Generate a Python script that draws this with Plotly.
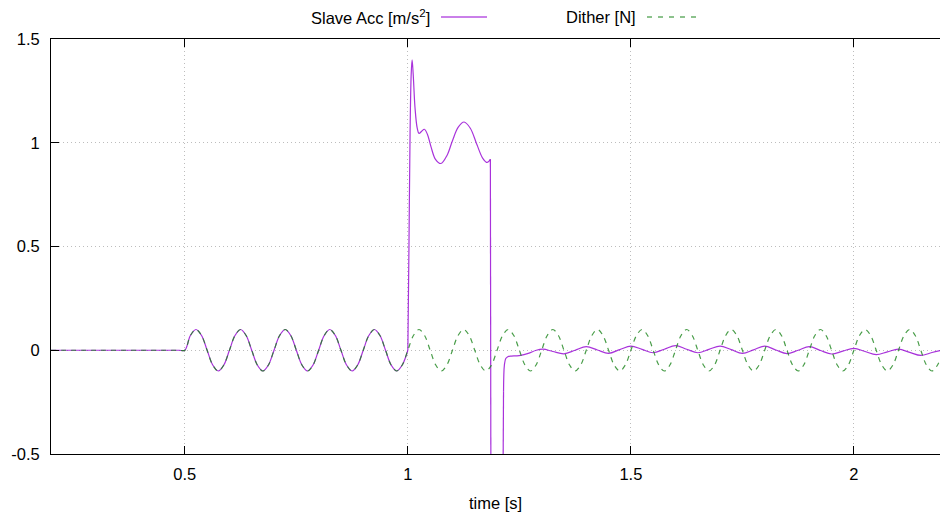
import plotly.graph_objects as go

# ---------------- data ----------------
# Dither [N]: 10 Hz, 0.1 N amplitude, starts at t = 0.5 s (eighth-period samples)
dither_t = [0.2, 0.3, 0.4, 0.45, 0.475, 0.4875,
            0.5, 0.5125, 0.525, 0.5375, 0.55, 0.5625, 0.575, 0.5875,
            0.6, 0.6125, 0.625, 0.6375, 0.65, 0.6625, 0.675, 0.6875,
            0.7, 0.7125, 0.725, 0.7375, 0.75, 0.7625, 0.775, 0.7875,
            0.8, 0.8125, 0.825, 0.8375, 0.85, 0.8625, 0.875, 0.8875,
            0.9, 0.9125, 0.925, 0.9375, 0.95, 0.9625, 0.975, 0.9875,
            1.0, 1.0125, 1.025, 1.0375, 1.05, 1.0625, 1.075, 1.0875,
            1.1, 1.1125, 1.125, 1.1375, 1.15, 1.1625, 1.175, 1.1875,
            1.2, 1.2125, 1.225, 1.2375, 1.25, 1.2625, 1.275, 1.2875,
            1.3, 1.3125, 1.325, 1.3375, 1.35, 1.3625, 1.375, 1.3875,
            1.4, 1.4125, 1.425, 1.4375, 1.45, 1.4625, 1.475, 1.4875,
            1.5, 1.5125, 1.525, 1.5375, 1.55, 1.5625, 1.575, 1.5875,
            1.6, 1.6125, 1.625, 1.6375, 1.65, 1.6625, 1.675, 1.6875,
            1.7, 1.7125, 1.725, 1.7375, 1.75, 1.7625, 1.775, 1.7875,
            1.8, 1.8125, 1.825, 1.8375, 1.85, 1.8625, 1.875, 1.8875,
            1.9, 1.9125, 1.925, 1.9375, 1.95, 1.9625, 1.975, 1.9875,
            2.0, 2.0125, 2.025, 2.0375, 2.05, 2.0625, 2.075, 2.0875,
            2.1, 2.1125, 2.125, 2.1375, 2.15, 2.1625, 2.175, 2.1875,
            2.2]
dither_v = [0.0, 0.0, 0.0, 0.0, 0.0, 0.0,
            0.0, 0.071, 0.1, 0.071, 0.0, -0.071, -0.1, -0.071,
            0.0, 0.071, 0.1, 0.071, 0.0, -0.071, -0.1, -0.071,
            0.0, 0.071, 0.1, 0.071, 0.0, -0.071, -0.1, -0.071,
            0.0, 0.071, 0.1, 0.071, 0.0, -0.071, -0.1, -0.071,
            0.0, 0.071, 0.1, 0.071, 0.0, -0.071, -0.1, -0.071,
            0.0, 0.071, 0.1, 0.071, 0.0, -0.071, -0.1, -0.071,
            0.0, 0.071, 0.1, 0.071, 0.0, -0.071, -0.1, -0.071,
            0.0, 0.071, 0.1, 0.071, 0.0, -0.071, -0.1, -0.071,
            0.0, 0.071, 0.1, 0.071, 0.0, -0.071, -0.1, -0.071,
            0.0, 0.071, 0.1, 0.071, 0.0, -0.071, -0.1, -0.071,
            0.0, 0.071, 0.1, 0.071, 0.0, -0.071, -0.1, -0.071,
            0.0, 0.071, 0.1, 0.071, 0.0, -0.071, -0.1, -0.071,
            0.0, 0.071, 0.1, 0.071, 0.0, -0.071, -0.1, -0.071,
            0.0, 0.071, 0.1, 0.071, 0.0, -0.071, -0.1, -0.071,
            0.0, 0.071, 0.1, 0.071, 0.0, -0.071, -0.1, -0.071,
            0.0, 0.071, 0.1, 0.071, 0.0, -0.071, -0.1, -0.071,
            0.0, 0.071, 0.1, 0.071, 0.0, -0.071, -0.1, -0.071,
            0.0]

# Slave Acc [m/s^2] -- part 1: follows the dither up to t = 1.0 s
acc_osc_t = [0.2, 0.3, 0.4, 0.45, 0.475, 0.4875,
             0.5, 0.5125, 0.525, 0.5375, 0.55, 0.5625, 0.575, 0.5875,
             0.6, 0.6125, 0.625, 0.6375, 0.65, 0.6625, 0.675, 0.6875,
             0.7, 0.7125, 0.725, 0.7375, 0.75, 0.7625, 0.775, 0.7875,
             0.8, 0.8125, 0.825, 0.8375, 0.85, 0.8625, 0.875, 0.8875,
             0.9, 0.9125, 0.925, 0.9375, 0.95, 0.9625, 0.975, 0.9875,
             1.0]
acc_osc_v = [0.0, 0.0, 0.0, 0.0, 0.0, 0.0,
             0.0, 0.071, 0.1, 0.071, 0.0, -0.071, -0.1, -0.071,
             0.0, 0.071, 0.1, 0.071, 0.0, -0.071, -0.1, -0.071,
             0.0, 0.071, 0.1, 0.071, 0.0, -0.071, -0.1, -0.071,
             0.0, 0.071, 0.1, 0.071, 0.0, -0.071, -0.1, -0.071,
             0.0, 0.071, 0.1, 0.071, 0.0, -0.071, -0.1, -0.071,
             0.0]
# part 2: transient after the jump at t = 1.0 s
acc_jump_t = [1.0, 1.0025, 1.005, 1.0075, 1.0095, 1.012, 1.016, 1.021, 1.025,
              1.031, 1.037, 1.044, 1.052, 1.062, 1.074, 1.088, 1.100, 1.113,
              1.126, 1.140, 1.155, 1.168, 1.178, 1.185]
acc_jump_v = [0.0, 0.50, 1.05, 1.33, 1.40, 1.33, 1.17, 1.07, 1.045,
              1.055, 1.065, 1.04, 0.98, 0.92, 0.90, 0.94, 1.01, 1.075,
              1.10, 1.07, 0.99, 0.925, 0.905, 0.92]
# part 3: the two near-vertical edges (curve leaves the plot below -0.5)
acc_edge_t = [1.185, 1.1862, None, 1.2132, 1.2145]
acc_edge_v = [0.92, -0.70, None, -0.70, -0.20]
# part 4: small residual oscillation
acc_tail_t = [1.2145, 1.2165, 1.2195, 1.224, 1.232, 1.242, 1.253, 1.270, 1.288, 1.303,
              1.325, 1.35, 1.375, 1.4, 1.425, 1.45, 1.475, 1.5, 1.525, 1.55, 1.575,
              1.6, 1.625, 1.65, 1.675, 1.7, 1.725, 1.75, 1.775, 1.8, 1.825, 1.85,
              1.875, 1.9, 1.925, 1.95, 1.975, 2.0, 2.025, 2.05, 2.075, 2.1, 2.125,
              2.15, 2.175, 2.2]
acc_tail_v = [-0.20, -0.07, -0.040, -0.031, -0.028, -0.027, -0.025, -0.015, 0.000, 0.005,
              -0.006, -0.017, 0.000, 0.017, 0.001, -0.015, 0.003, 0.020, 0.004, -0.012, 0.005,
              0.022, 0.005, -0.012, 0.004, 0.020, 0.003, -0.015, 0.002, 0.020, 0.001, -0.016,
              0.000, 0.017, -0.001, -0.018, -0.004, 0.009, -0.006, -0.021, -0.008, 0.005, -0.010,
              -0.025, -0.011, 0.002]

x_ticks = [0.5, 1.0, 1.5, 2.0]
x_labels = ["0.5", "1", "1.5", "2"]
y_ticks = [-0.5, 0.0, 0.5, 1.0, 1.5]
y_labels = ["-0.5", "0", "0.5", "1", "1.5"]

ACC_COLOR = "#9400d3"
DITHER_COLOR = "#1b851b"
FONT = "Liberation Sans, Arial, sans-serif"
FS = 16.5

acc_line_spline = dict(color=ACC_COLOR, width=1.2, shape="spline", smoothing=1.0)
acc_line_linear = dict(color=ACC_COLOR, width=1.2, shape="linear")

fig = go.Figure()
for xs, ys, ln in [(acc_osc_t, acc_osc_v, acc_line_spline),
                   (acc_jump_t, acc_jump_v, acc_line_spline),
                   (acc_edge_t, acc_edge_v, acc_line_linear),
                   (acc_tail_t, acc_tail_v, acc_line_spline)]:
    fig.add_trace(go.Scatter(x=xs, y=ys, mode="lines", name="Slave Acc", line=ln,
                             opacity=0.8, showlegend=False, connectgaps=False,
                             legendgroup="acc"))
fig.add_trace(go.Scatter(x=dither_t, y=dither_v, mode="lines", name="Dither [N]",
                         line=dict(color=DITHER_COLOR, width=1.2, dash="5px,5px",
                                   shape="spline", smoothing=1.0),
                         opacity=0.8, showlegend=False))

L, T, B = 51, 39, 63
W, H = 940, 517
PW, PH = W - L, H - T - B

def px2paper_x(px):
    return (px - L) / PW

def px2paper_y(py):
    return (H - B - py) / PH

grid_kw = dict(showgrid=True, gridcolor="#bdbdbd", griddash="1px,3px", gridwidth=1)

fig.update_layout(
    width=W, height=H,
    margin=dict(l=L, r=0, t=T, b=B, pad=0),
    paper_bgcolor="white", plot_bgcolor="white",
    font=dict(family=FONT, size=FS, color="black"),
    xaxis=dict(range=[0.2, 2.193], tickvals=x_ticks, ticktext=x_labels,
               ticks="inside", ticklen=8, tickcolor="black", tickwidth=1,
               showline=True, linecolor="black", linewidth=1, mirror="ticks",
               zeroline=False, ticklabelstandoff=5, **grid_kw),
    yaxis=dict(range=[-0.5, 1.5], tickvals=y_ticks, ticktext=y_labels,
               ticks="inside", ticklen=8, tickcolor="black", tickwidth=1,
               showline=True, linecolor="black", linewidth=1,
               zeroline=False, ticklabelstandoff=7, **grid_kw),
    showlegend=False,
)

# x-axis title
fig.add_annotation(text="time [s]", x=0.5, y=px2paper_y(503), xref="paper", yref="paper",
                   xanchor="center", yanchor="middle", showarrow=False,
                   font=dict(family=FONT, size=FS, color="black"))

# gnuplot-style legend: text then line sample
leg_y = px2paper_y(17)
fig.add_annotation(text="Slave Acc [m/s<sup>2</sup>]", x=px2paper_x(432), y=leg_y,
                   xref="paper", yref="paper", xanchor="right", yanchor="middle",
                   showarrow=False, font=dict(family=FONT, size=FS, color="black"))
fig.add_shape(type="line", xref="paper", yref="paper",
              x0=px2paper_x(441), x1=px2paper_x(487), y0=leg_y, y1=leg_y,
              line=dict(color=ACC_COLOR, width=1))
fig.add_annotation(text="Dither [N]", x=px2paper_x(638), y=leg_y,
                   xref="paper", yref="paper", xanchor="right", yanchor="middle",
                   showarrow=False, font=dict(family=FONT, size=FS, color="black"))
fig.add_shape(type="line", xref="paper", yref="paper",
              x0=px2paper_x(647), x1=px2paper_x(697), y0=leg_y, y1=leg_y,
              line=dict(color=DITHER_COLOR, width=1, dash="5px,6px"))

fig.write_html("out.html")
